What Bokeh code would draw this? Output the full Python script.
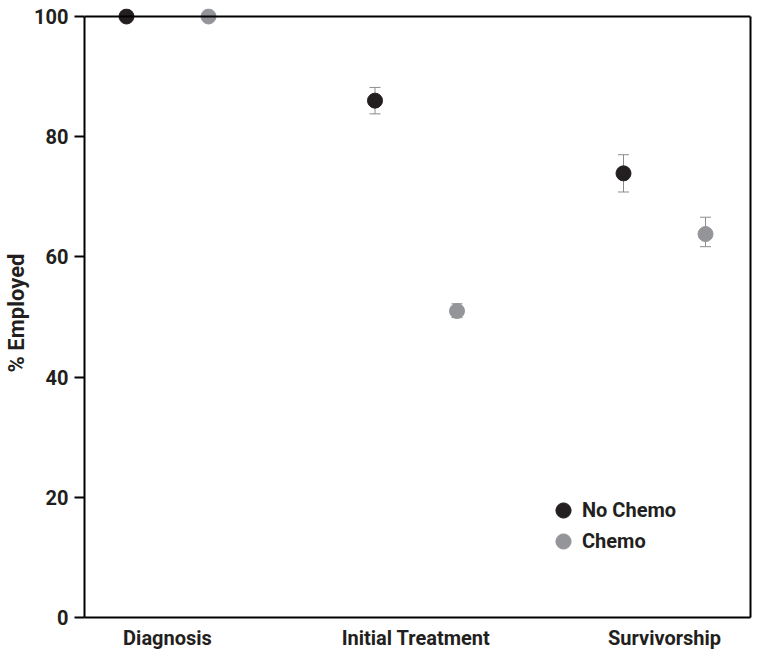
from bokeh.plotting import figure
from bokeh.models import (ColumnDataSource, Range1d, FixedTicker, LinearAxis, Span,
                          Whisker, TeeHead, Legend, LegendItem)
from bokeh.embed import file_html
from bokeh.resources import INLINE

categories = ["Diagnosis", "Initial Treatment", "Survivorship"]
no_chemo = [100, 86, 73.9]
no_chemo_lower = [100, 83.8, 70.8]
no_chemo_upper = [100, 88.2, 77.0]
chemo = [100, 51, 63.8]
chemo_lower = [100, 49.9, 61.7]
chemo_upper = [100, 52.2, 66.6]
y_ticks = [0, 20, 40, 60, 80, 100]

FONT = "Roboto"
TXT = "#231f20"
DARK = "#231f20"
GREY = "#939598"
WHISK = "#8c8c8c"
offset = 0.165

idx = list(range(len(categories)))
src_nc = ColumnDataSource(dict(x=[i - offset for i in idx], y=no_chemo,
                               lo=no_chemo_lower, hi=no_chemo_upper))
src_c = ColumnDataSource(dict(x=[i + offset for i in idx], y=chemo,
                              lo=chemo_lower, hi=chemo_upper))

p = figure(width=754, height=657, output_backend="svg", toolbar_location=None,
           x_range=Range1d(-0.334, 2.346), y_range=Range1d(0, 101.33),
           min_border_left=84, min_border_right=4, min_border_top=8, min_border_bottom=40)
p.outline_line_color = None
p.grid.visible = False
p.background_fill_color = "white"

# axes
p.yaxis.bounds = (0, 100)
p.yaxis.ticker = FixedTicker(ticks=y_ticks)
p.yaxis.minor_tick_line_color = None
p.yaxis.major_tick_out = 10
p.yaxis.major_tick_in = 0
p.yaxis.major_tick_line_width = 2
p.yaxis.axis_line_width = 2
p.yaxis.major_label_standoff = 6
p.yaxis.axis_label = "% Employed"
p.yaxis.axis_label_text_font = FONT
p.yaxis.axis_label_text_font_style = "bold"
p.yaxis.axis_label_text_font_size = "22px"
p.yaxis.axis_label_text_color = TXT
p.yaxis.axis_label_standoff = 2

p.xaxis.ticker = FixedTicker(ticks=idx)
p.xaxis.major_label_overrides = {i: c for i, c in zip(idx, categories)}
p.xaxis.major_tick_line_color = None
p.xaxis.minor_tick_line_color = None
p.xaxis.axis_line_width = 2
p.xaxis.major_label_standoff = 2

for ax in (p.xaxis, p.yaxis):
    ax.major_label_text_font = FONT
    ax.major_label_text_font_style = "bold"
    ax.major_label_text_font_size = "20px"
    ax.major_label_text_color = TXT
    ax.axis_line_color = "black"

right = LinearAxis(bounds=(0, 100), ticker=FixedTicker(ticks=[]),
                   major_label_text_font_size="0px", major_label_standoff=0,
                   axis_line_width=2,
                   major_tick_line_color=None, minor_tick_line_color=None)
p.add_layout(right, "right")
p.add_layout(Span(location=100, dimension="width", line_color="black", line_width=2))

for src in (src_nc, src_c):
    w = Whisker(source=src, base="x", lower="lo", upper="hi", dimension="height",
                line_color=WHISK, line_width=1, level="underlay",
                upper_head=TeeHead(size=11, line_color=WHISK, line_width=1),
                lower_head=TeeHead(size=11, line_color=WHISK, line_width=1))
    p.add_layout(w)

r_nc = p.scatter("x", "y", source=src_nc, size=15, fill_color=DARK, line_color=DARK)
r_c = p.scatter("x", "y", source=src_c, size=15, fill_color=GREY, line_color=GREY)

legend_style = dict(orientation="vertical", background_fill_alpha=0, border_line_color=None,
                    padding=0, margin=0, spacing=0, glyph_width=38, glyph_height=38,
                    label_height=38, label_standoff=0,
                    label_text_font=FONT, label_text_font_style="bold",
                    label_text_font_size="20px", label_text_color=TXT)
leg1 = Legend(items=[LegendItem(label="No Chemo", renderers=[r_nc])],
              location=(460, 88), **legend_style)
leg2 = Legend(items=[LegendItem(label="Chemo", renderers=[r_c])],
              location=(460, 57), **legend_style)
p.add_layout(leg1)
p.add_layout(leg2)

open("out.html", "w").write(file_html(p, INLINE))
